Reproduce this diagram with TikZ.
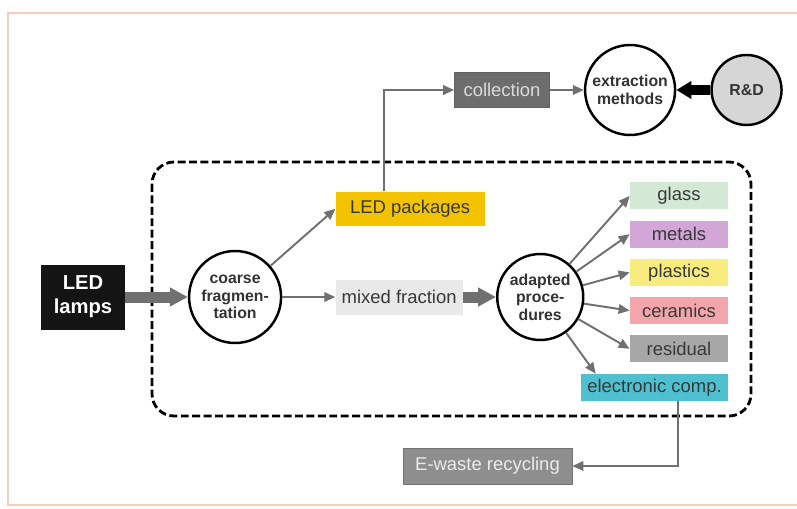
\documentclass[tikz,border=0pt]{standalone}
\usepackage{fontspec}
\setmainfont{Liberation Sans}
\usetikzlibrary{positioning,arrows.meta}
\definecolor{arrgray}{HTML}{707070}
\definecolor{framec}{HTML}{F7CDC2}
\definecolor{pkgyellow}{HTML}{F4C300}
\definecolor{mixgray}{HTML}{E9E9E9}
\definecolor{colgray}{HTML}{6D6D6D}
\definecolor{ewgray}{HTML}{8E8E8E}
\definecolor{glassc}{HTML}{D3E9D6}
\definecolor{metalc}{HTML}{D2A7D7}
\definecolor{plastc}{HTML}{F8EC7E}
\definecolor{ceramc}{HTML}{F2A6AC}
\definecolor{residc}{HTML}{A7A7A7}
\definecolor{elecc}{HTML}{4FC0D0}
\tikzset{
  box/.style  ={minimum height=7mm, align=center, inner sep=1pt,
                font=\fontsize{10.5}{12}\selectfont, text=black!78},
  frac/.style ={box, minimum width=19.6mm, minimum height=5.4mm},
  lamp/.style ={box, fill=black!92, text=white, minimum width=16.6mm,
                minimum height=13mm, font=\fontsize{11.5}{13.5}\selectfont\bfseries},
  rnd/.style  ={circle, draw, line width=1.4pt, fill=white, inner sep=0pt,
                minimum size=18.4mm, align=center, text=black!80,
                font=\fontsize{9}{10}\selectfont\bfseries},
  fl/.style   ={-{Triangle[length=2.2mm,width=1.9mm]}, draw=arrgray, line width=1.1pt},
  fat/.style  ={-{Triangle[length=3.6mm,width=3.6mm]}, draw=arrgray, line width=2.2mm},
  fatk/.style ={-{Triangle[length=3mm,width=3.4mm]}, draw=black, line width=2mm},
  grp/.style  ={draw, line width=1.6pt, dash pattern=on 4.5pt off 2pt, rounded corners=4.4mm},
  frm/.style  ={draw=framec, line width=1pt}
}

\begin{document}
\begin{tikzpicture}[node distance=2.1mm]
  \useasboundingbox (-1.66,-4.22) rectangle (14.28,5.94);
  \draw[frm] (14.4,5.68) -- (-1.5,5.68) -- (-1.5,-4.16) -- (14.4,-4.16);

  % dismantling line
  \draw[grp] (1.38,2.70) rectangle (13.36,-2.38);

  \node[lamp](lamps) at (0,0){LED\\lamps};
  \node[rnd, right=12.6mm of lamps](coarse){coarse\\fragmen-\\tation};
  \node[box, fill=mixgray, minimum width=25.4mm, right=10.6mm of coarse](mixed){mixed fraction};
  \node[rnd, minimum size=17.2mm, right=6.6mm of mixed](adapt){adapted\\proce-\\dures};
  \node[box, fill=pkgyellow, minimum width=29.8mm, minimum height=6.8mm,
        above=10.6mm of mixed.north west, anchor=south west](pkg){LED packages};

  % packages route
  \node[box, fill=colgray, draw=black!62, text=black!14, minimum width=19mm](coll) at (8.38,4.14){collection};
  \node[rnd, minimum size=18mm, right=6.8mm of coll](extr){extraction\\methods};
  \node[rnd, fill=black!16, minimum size=14mm, right=6.8mm of extr](rd){R\&D};

  % sorted fractions
  \node[frac, fill=glassc](glass) at (11.92,2.02){glass};
  \node[frac, fill=metalc, below=of glass](metal){metals};
  \node[frac, fill=plastc, below=of metal](plast){plastics};
  \node[frac, fill=ceramc, below=of plast](ceram){ceramics};
  \node[frac, fill=residc, below=of ceram](resid){residual};
  \node[frac, fill=elecc, minimum width=29.4mm, below=2.2mm of resid.south east, anchor=north east](elec){electronic comp.};
  \node[box, fill=ewgray, draw=black!55, text=black!8, minimum width=33.8mm, minimum height=7.2mm](ewaste) at (8.09,-3.38){E-waste recycling};

  \draw[fat](lamps)--(coarse);
  \draw[fl](coarse)--(mixed);
  \draw[fl](coarse)--(pkg.west);
  \draw[fat](mixed)--(adapt);
  \draw[fl]([xshift=-5.2mm]pkg.north) |- (coll.west);
  \draw[fl](coll)--(extr);
  \draw[fatk](rd)--(extr);
  \draw[fl](adapt)--(glass.west);\draw[fl](adapt)--(metal.west);
  \draw[fl](adapt)--(plast.west);\draw[fl](adapt)--(ceram.west);
  \draw[fl](adapt)--(resid.west);
  \draw[fl](adapt)--([xshift=3mm]elec.north west);
  \draw[fl]([xshift=4.7mm]elec.south) |- (ewaste.east);
\end{tikzpicture}
\end{document}
